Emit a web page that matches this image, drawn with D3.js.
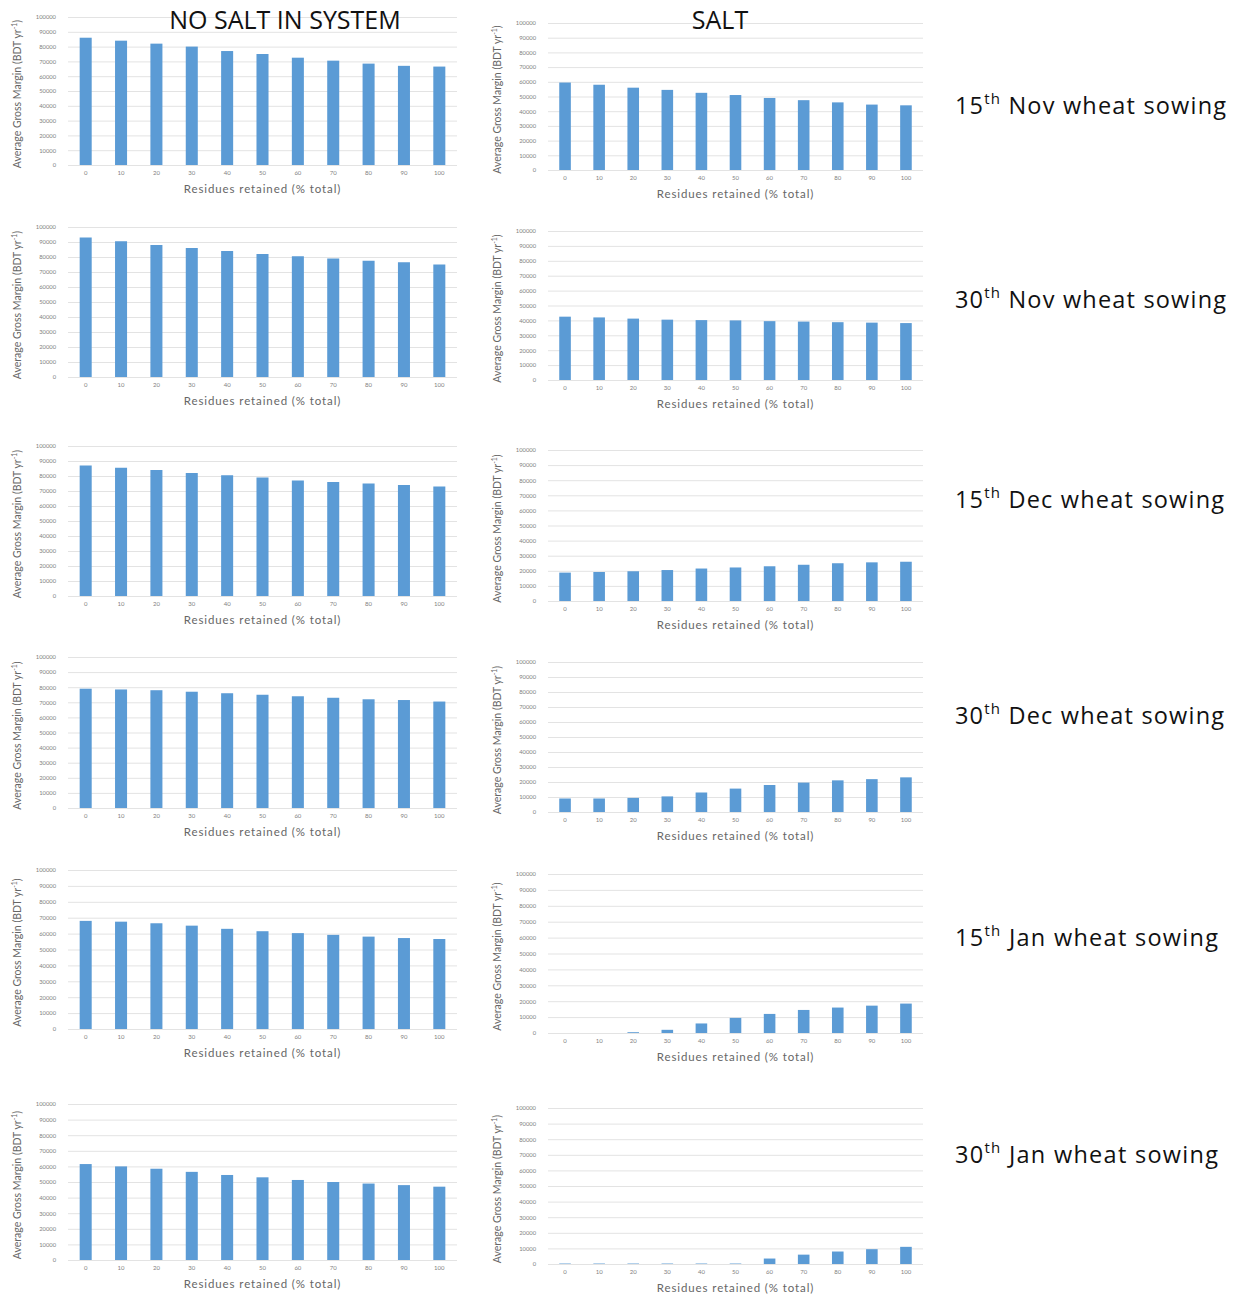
<!DOCTYPE html>
<html>
<head>
<meta charset="utf-8">
<script src="https://cdn.jsdelivr.net/npm/d3@7"></script>
<style>
  body { margin: 0; background: #fff; }
  svg { display: block; }
</style>
</head>
<body>
<svg id="chart" width="1245" height="1300"></svg>
<script>
// ---------- DATA ----------
const categories = ["0","10","20","30","40","50","60","70","80","90","100"];
const yTicks = [0,10000,20000,30000,40000,50000,60000,70000,80000,90000,100000];
const columnTitles = ["NO SALT IN SYSTEM", "SALT"];
const sowingDates = [
  ["15", "Nov"], ["30", "Nov"], ["15", "Dec"], ["30", "Dec"], ["15", "Jan"], ["30", "Jan"]
];

const nov15NoSalt = [86000, 84000, 82000, 80000, 77000, 75000, 72500, 70500, 68500, 67000, 66500];
const nov15Salt   = [59500, 58000, 56000, 54500, 52500, 51000, 49000, 47500, 46000, 44500, 44000];
const nov30NoSalt = [93000, 90500, 88000, 86000, 84000, 82000, 80500, 79000, 77500, 76500, 75000];
const nov30Salt   = [42500, 42000, 41200, 40500, 40200, 40000, 39500, 39200, 38800, 38500, 38200];
const dec15NoSalt = [87000, 85500, 84000, 82000, 80500, 79000, 77000, 76000, 75000, 74000, 73000];
const dec15Salt   = [18800, 19200, 19700, 20500, 21500, 22200, 23000, 24000, 25000, 25600, 26000];
const dec30NoSalt = [79000, 78500, 78000, 77000, 76000, 75000, 74000, 73000, 72000, 71500, 70500];
const dec30Salt   = [9000, 9000, 9400, 10400, 13000, 15600, 18000, 19600, 21100, 21900, 23100];
const jan15NoSalt = [68000, 67500, 66500, 65000, 63000, 61500, 60300, 59200, 58100, 57200, 56600];
const jan15Salt   = [0, 0, 500, 2000, 6000, 9500, 12000, 14500, 16000, 17200, 18500];
const jan30NoSalt = [61500, 60000, 58500, 56500, 54500, 53000, 51300, 50000, 49000, 48000, 47000];
const jan30Salt   = [300, 300, 300, 300, 300, 300, 3500, 6000, 8000, 9500, 11000];

const panelSeries = [
  [nov15NoSalt, nov15Salt],
  [nov30NoSalt, nov30Salt],
  [dec15NoSalt, dec15Salt],
  [dec30NoSalt, dec30Salt],
  [jan15NoSalt, jan15Salt],
  [jan30NoSalt, jan30Salt]
];

// ---------- LAYOUT ----------
const colX = [[68, 457], [548, 923]];
const rowY = [
  [[17, 165], [23, 170]],
  [[227, 377], [231, 380]],
  [[446, 596], [450, 601]],
  [[657, 808], [662, 812]],
  [[870, 1029], [874, 1033]],
  [[1104, 1260], [1108, 1264]]
];
const sowLabelY = [114, 308, 508, 724, 946, 1163];
const sowLabelW = [271, 271, 269, 269, 263, 263];

const BAR = "#5b9bd5";
const GRID = "#e3e3e3";
const TXT = "#7f7f7f";
const FONT = "Lato, 'Open Sans', sans-serif";
const BIGFONT = "'Open Sans', Lato, sans-serif";

const svg = d3.select("#chart");

panelSeries.forEach((pair, r) => {
  pair.forEach((values, c) => {
    const [x0, x1] = colX[c];
    const [yTop, yBot] = rowY[r][c];
    const g = svg.append("g");

    const x = d3.scaleBand().domain(categories).range([x0, x1])
      .paddingInner(0.66).paddingOuter(0.33);
    const y = d3.scaleLinear().domain([0, 100000]).range([yBot, yTop]);

    // gridlines
    g.append("g").selectAll("line").data(yTicks).join("line")
      .attr("x1", x0).attr("x2", x1)
      .attr("y1", d => y(d) + 0.5).attr("y2", d => y(d) + 0.5)
      .attr("stroke", GRID).attr("stroke-width", 1);

    // y axis labels
    const ya = g.append("g").attr("transform", `translate(${x0 - 9},0)`)
      .call(d3.axisLeft(y).tickValues(yTicks).tickSize(0).tickFormat(d3.format("d")));
    ya.select(".domain").remove();
    ya.selectAll("text").attr("fill", TXT).attr("font-size", 5.8).attr("font-family", FONT);

    // bars
    g.append("g").selectAll("rect").data(values).join("rect")
      .attr("x", (d, i) => x(categories[i]))
      .attr("width", x.bandwidth())
      .attr("y", d => y(d))
      .attr("height", d => y(0) - y(d))
      .attr("fill", BAR);

    // x axis labels
    const xa = g.append("g").attr("transform", `translate(0,${yBot + 3})`)
      .call(d3.axisBottom(x).tickSize(0));
    xa.select(".domain").remove();
    xa.selectAll("text").attr("fill", TXT).attr("font-size", 6).attr("font-family", FONT);

    // x title
    g.append("text")
      .attr("x", (x0 + x1) / 2)
      .attr("y", yBot + 28)
      .attr("text-anchor", "middle")
      .attr("font-family", FONT).attr("font-size", 11.5).attr("fill", "#666")
      .attr("letter-spacing", 0.9)
      .text("Residues retained (% total)");

    // y title
    const yt = g.append("text")
      .attr("transform", `translate(${x0 - 47},${(yTop + yBot) / 2 + 3}) rotate(-90)`)
      .attr("text-anchor", "middle")
      .attr("font-family", FONT).attr("font-size", 10.5).attr("fill", "#666");
    yt.append("tspan").text("Average Gross Margin (BDT yr");
    yt.append("tspan").attr("baseline-shift", "super").attr("font-size", 7).text("-1");
    yt.append("tspan").text(")");
  });
});

// column titles
svg.append("text").attr("x", 285).attr("y", 29).attr("text-anchor", "middle")
  .attr("font-family", BIGFONT).attr("font-size", 25).attr("fill", "#111")
  .text(columnTitles[0]);
svg.append("text").attr("x", 720).attr("y", 29).attr("text-anchor", "middle")
  .attr("font-family", BIGFONT).attr("font-size", 25).attr("fill", "#111")
  .text(columnTitles[1]);

// row labels
sowingDates.forEach(([day, mon], i) => {
  const t = svg.append("text").attr("x", 955).attr("y", sowLabelY[i])
    .attr("font-family", BIGFONT).attr("font-size", 23.5).attr("fill", "#111")
    .attr("textLength", sowLabelW[i]).attr("lengthAdjust", "spacing");
  t.append("tspan").text(day);
  t.append("tspan").attr("baseline-shift", "super").attr("font-size", 15).text("th");
  t.append("tspan").text(" " + mon + " wheat sowing");
});
</script>
</body>
</html>
